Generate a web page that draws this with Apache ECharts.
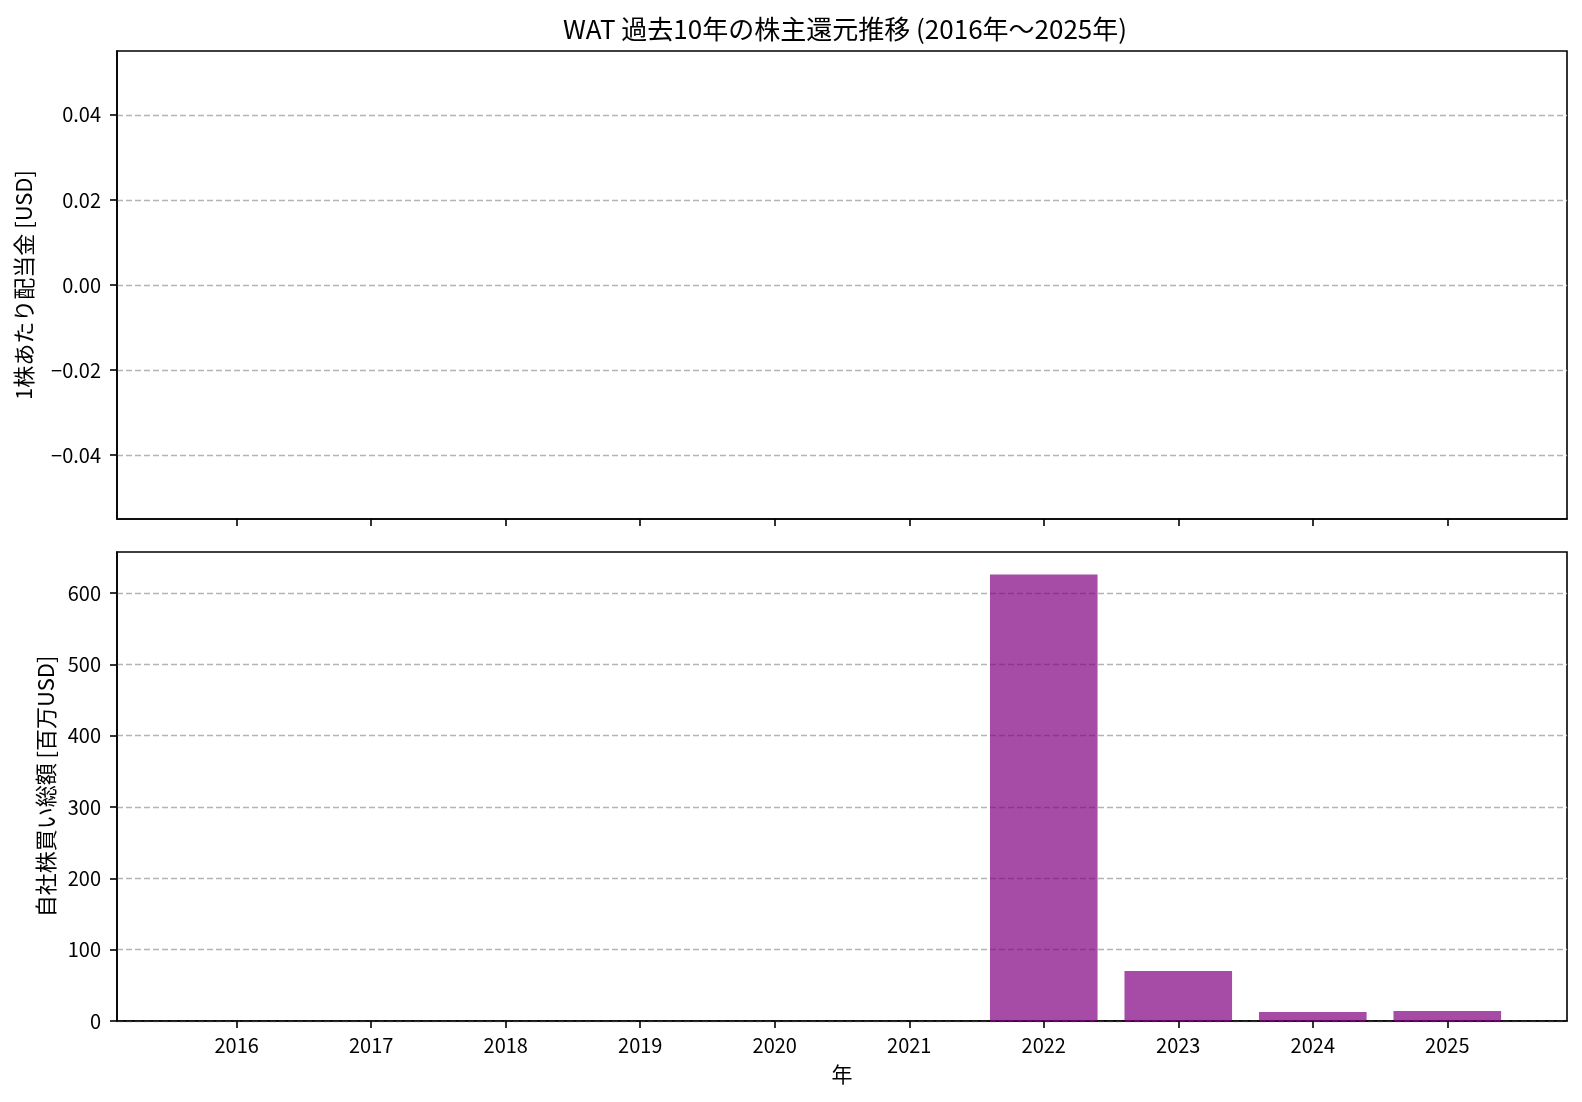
<!DOCTYPE html>
<html>
<head>
<meta charset="utf-8">
<title>WAT 株主還元推移</title>
<script src="https://cdn.jsdelivr.net/npm/echarts@6/dist/echarts.min.js"></script>
<style>
  html, body { margin: 0; padding: 0; background: #fff; }
  #main { width: 1582px; height: 1102px; }
</style>
</head>
<body>
<div id="main"></div>
<script>
// データ
var years = [2016, 2017, 2018, 2019, 2020, 2021, 2022, 2023, 2024, 2025];
var dividends = [0, 0, 0, 0, 0, 0, 0, 0, 0, 0];            // 1株あたり配当金 [USD]
var buybacks = [0, 0, 0, 0, 0, 0, 626, 70, 12.6, 14];       // 自社株買い総額 [百万USD]
var dividendTicks = [-0.04, -0.02, 0, 0.02, 0.04];
var buybackTicks = [0, 100, 200, 300, 400, 500, 600];

var FONT = 'Noto Sans CJK JP';
var black = '#000';

var chart = echarts.init(document.getElementById('main'));

function pairs(vals) {
    return years.map(function (y, i) { return [y, vals[i]]; });
}

var axisLineStyle = { show: true, onZero: false, lineStyle: { color: black, width: 1.6 } };
var tickStyle = { show: true, length: 7, lineStyle: { color: black, width: 1.6 } };
var gridLine = { show: true, lineStyle: { color: '#b4b4b4', width: 1.4, type: [6, 3] } };

var option = {
    animation: false,
    textStyle: { fontFamily: FONT },
    title: {
        text: 'WAT 過去10年の株主還元推移 (2016年～2025年)',
        left: 840,
        top: 11,
        textAlign: 'center',
        textStyle: { fontFamily: FONT, fontSize: 26, fontWeight: 'normal', color: black }
    },
    grid: [
        { left: 117, right: 15, top: 51, height: 468, show: true, borderColor: black, borderWidth: 1.6 },
        { left: 117, right: 15, top: 552, height: 469, show: true, borderColor: black, borderWidth: 1.6 }
    ],
    xAxis: [
        {
            type: 'value', gridIndex: 0, min: 2015.11, max: 2025.89,
            axisLine: axisLineStyle,
            axisTick: Object.assign({ customValues: years }, tickStyle),
            axisLabel: { show: false, customValues: years },
            splitLine: { show: false }
        },
        {
            type: 'value', gridIndex: 1, min: 2015.11, max: 2025.89,
            name: '年', nameLocation: 'middle', nameGap: 43,
            nameTextStyle: { fontFamily: FONT, fontSize: 21, color: black },
            axisLine: axisLineStyle,
            axisTick: Object.assign({ customValues: years }, tickStyle),
            axisLabel: {
                customValues: years, margin: 14,
                fontFamily: FONT, fontSize: 20, color: black,
                formatter: function (v) { return String(v); }
            },
            splitLine: { show: false }
        }
    ],
    yAxis: [
        {
            type: 'value', gridIndex: 0, min: -0.055, max: 0.055,
            name: '1株あたり配当金 [USD]', nameLocation: 'middle', nameGap: 82,
            nameTextStyle: { fontFamily: FONT, fontSize: 22, color: black },
            axisLine: axisLineStyle,
            axisTick: Object.assign({ customValues: dividendTicks }, tickStyle),
            axisLabel: {
                customValues: dividendTicks, margin: 16,
                fontFamily: FONT, fontSize: 20, color: black,
                formatter: function (v) { return v.toFixed(2).replace('-', '−'); }
            },
            splitLine: gridLine
        },
        {
            type: 'value', gridIndex: 1, min: 0, max: 657.5,
            name: '自社株買い総額 [百万USD]', nameLocation: 'middle', nameGap: 60,
            nameTextStyle: { fontFamily: FONT, fontSize: 22, color: black },
            axisLine: axisLineStyle,
            axisTick: Object.assign({ customValues: buybackTicks }, tickStyle),
            axisLabel: {
                customValues: buybackTicks, margin: 16,
                fontFamily: FONT, fontSize: 20, color: black
            },
            splitLine: gridLine
        }
    ],
    series: [
        {
            name: '配当金',
            type: 'bar',
            xAxisIndex: 0, yAxisIndex: 0,
            barWidth: '80%',
            data: pairs(dividends),
            itemStyle: { color: 'rgba(128,0,128,0.7)' }
        },
        {
            name: '自社株買い',
            type: 'bar',
            xAxisIndex: 1, yAxisIndex: 1,
            barWidth: '80%',
            data: pairs(buybacks),
            itemStyle: { color: 'rgba(128,0,128,0.7)' }
        }
    ]
};

chart.setOption(option);
</script>
</body>
</html>
